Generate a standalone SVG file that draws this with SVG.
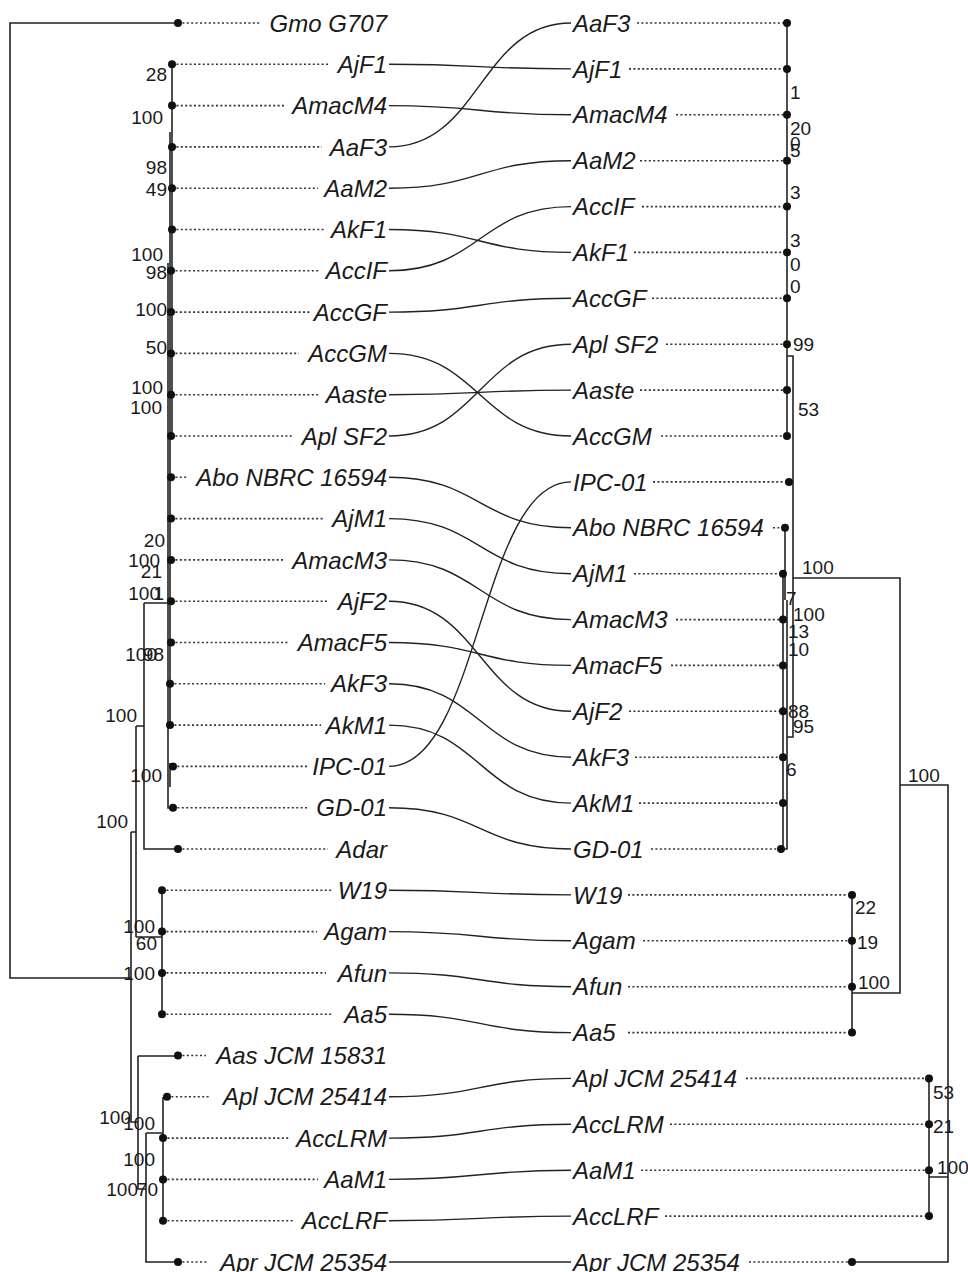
<svg xmlns="http://www.w3.org/2000/svg" width="968" height="1272" viewBox="0 0 968 1272">
<style>
.lbl{font-family:"Liberation Sans",Arial,sans-serif;font-style:italic;font-size:24px;fill:#1a1a1a}
.le{text-anchor:end}
.bs{font-family:"Liberation Sans",Arial,sans-serif;font-size:19px;fill:#1a1a1a}
.bse{text-anchor:end}
.br{stroke:#222;stroke-width:1.6;fill:none}
.dl{stroke:#333;stroke-width:1.6;stroke-dasharray:2 2.4;fill:none}
.con{stroke:#222;stroke-width:1.4;fill:none}
.dot{fill:#111}
</style>
<rect width="968" height="1272" fill="#fff"/>

<!-- left tree branches -->
<g id="left-tree">
<path class="br" d="M178,23 H10 V978 H131"/>
<path class="br" d="M131,832 V1122 H138"/>
<path class="br" d="M131,832 H136 M136,726 V937"/>
<path class="br" d="M136,726 H144 M144,603 V849 H178 M144,603 H168"/>
<path class="br" d="M172,64 V436"/>
<path class="br" d="M170,132 V725"/>
<path class="br" d="M168,263 V808 H173"/>
<path class="br" d="M170,763 V787"/>
<path class="br" d="M136,937 H162 M162,890 V1014"/>
<path class="br" d="M138,1056 V1189 H146 M138,1056 H178"/>
<path class="br" d="M146,1133 V1262 H178 M146,1133 H163 M163,1097 V1221 M163,1097 H167"/>
</g>

<!-- right tree branches -->
<g id="right-tree">
<path class="br" d="M787,23 V436"/>
<path class="br" d="M787,356 H793 V737 H787"/>
<path class="br" d="M789,482 H793"/>
<path class="br" d="M785,528 V600 M783,573 V849 M787,600 V849 H781"/>
<path class="br" d="M793,578 H900 V993 H852 M852,895 V1033"/>
<path class="br" d="M900,785 H948 V1262 H852"/>
<path class="br" d="M948,1177 H929 M929,1078 V1216"/>
</g>

<!-- left leaves -->
<g id="L0"><line class="dl" x1="178" y1="23" x2="261" y2="23"/><circle class="dot" cx="178" cy="23" r="4"/><text class="lbl le" x="387" y="31.6">Gmo G707</text></g>
<g id="L1"><line class="dl" x1="172" y1="64.3" x2="329" y2="64.3"/><circle class="dot" cx="172" cy="64.3" r="4"/><text class="lbl le" x="387" y="72.9">AjF1</text></g>
<g id="L2"><line class="dl" x1="172" y1="105.6" x2="284" y2="105.6"/><circle class="dot" cx="172" cy="105.6" r="4"/><text class="lbl le" x="387" y="114.2">AmacM4</text></g>
<g id="L3"><line class="dl" x1="172" y1="146.9" x2="322" y2="146.9"/><circle class="dot" cx="172" cy="146.9" r="4"/><text class="lbl le" x="387" y="155.5">AaF3</text></g>
<g id="L4"><line class="dl" x1="172" y1="188.2" x2="318" y2="188.2"/><circle class="dot" cx="172" cy="188.2" r="4"/><text class="lbl le" x="387" y="196.8">AaM2</text></g>
<g id="L5"><line class="dl" x1="172" y1="229.5" x2="326" y2="229.5"/><circle class="dot" cx="172" cy="229.5" r="4"/><text class="lbl le" x="387" y="238.1">AkF1</text></g>
<g id="L6"><line class="dl" x1="171" y1="270.8" x2="320" y2="270.8"/><circle class="dot" cx="171" cy="270.8" r="4"/><text class="lbl le" x="387" y="279.4">AccIF</text></g>
<g id="L7"><line class="dl" x1="171" y1="312.1" x2="310" y2="312.1"/><circle class="dot" cx="171" cy="312.1" r="4"/><text class="lbl le" x="387" y="320.7">AccGF</text></g>
<g id="L8"><line class="dl" x1="171" y1="353.4" x2="299" y2="353.4"/><circle class="dot" cx="171" cy="353.4" r="4"/><text class="lbl le" x="387" y="362">AccGM</text></g>
<g id="L9"><line class="dl" x1="171" y1="394.7" x2="319" y2="394.7"/><circle class="dot" cx="171" cy="394.7" r="4"/><text class="lbl le" x="387" y="403.3">Aaste</text></g>
<g id="L10"><line class="dl" x1="171" y1="436" x2="293" y2="436"/><circle class="dot" cx="171" cy="436" r="4"/><text class="lbl le" x="387" y="444.6">Apl SF2</text></g>
<g id="L11"><line class="dl" x1="171" y1="477.3" x2="187" y2="477.3"/><circle class="dot" cx="171" cy="477.3" r="4"/><text class="lbl le" x="387" y="485.9">Abo NBRC 16594</text></g>
<g id="L12"><line class="dl" x1="171" y1="518.6" x2="325" y2="518.6"/><circle class="dot" cx="171" cy="518.6" r="4"/><text class="lbl le" x="387" y="527.2">AjM1</text></g>
<g id="L13"><line class="dl" x1="171" y1="559.9" x2="284" y2="559.9"/><circle class="dot" cx="171" cy="559.9" r="4"/><text class="lbl le" x="387" y="568.5">AmacM3</text></g>
<g id="L14"><line class="dl" x1="171" y1="601.2" x2="329" y2="601.2"/><circle class="dot" cx="171" cy="601.2" r="4"/><text class="lbl le" x="387" y="609.8">AjF2</text></g>
<g id="L15"><line class="dl" x1="171" y1="642.5" x2="289" y2="642.5"/><circle class="dot" cx="171" cy="642.5" r="4"/><text class="lbl le" x="387" y="651.1">AmacF5</text></g>
<g id="L16"><line class="dl" x1="170" y1="683.8" x2="325" y2="683.8"/><circle class="dot" cx="170" cy="683.8" r="4"/><text class="lbl le" x="387" y="692.4">AkF3</text></g>
<g id="L17"><line class="dl" x1="170" y1="725.1" x2="321" y2="725.1"/><circle class="dot" cx="170" cy="725.1" r="4"/><text class="lbl le" x="387" y="733.7">AkM1</text></g>
<g id="L18"><line class="dl" x1="173" y1="766.4" x2="307" y2="766.4"/><circle class="dot" cx="173" cy="766.4" r="4"/><text class="lbl le" x="387" y="775">IPC-01</text></g>
<g id="L19"><line class="dl" x1="173" y1="807.7" x2="309" y2="807.7"/><circle class="dot" cx="173" cy="807.7" r="4"/><text class="lbl le" x="387" y="816.3">GD-01</text></g>
<g id="L20"><line class="dl" x1="178" y1="849" x2="328" y2="849"/><circle class="dot" cx="178" cy="849" r="4"/><text class="lbl le" x="387" y="857.6">Adar</text></g>
<g id="L21"><line class="dl" x1="162" y1="890.3" x2="332" y2="890.3"/><circle class="dot" cx="162" cy="890.3" r="4"/><text class="lbl le" x="387" y="898.9">W19</text></g>
<g id="L22"><line class="dl" x1="162" y1="931.6" x2="317" y2="931.6"/><circle class="dot" cx="162" cy="931.6" r="4"/><text class="lbl le" x="387" y="940.2">Agam</text></g>
<g id="L23"><line class="dl" x1="162" y1="972.9" x2="326" y2="972.9"/><circle class="dot" cx="162" cy="972.9" r="4"/><text class="lbl le" x="387" y="981.5">Afun</text></g>
<g id="L24"><line class="dl" x1="162" y1="1014.2" x2="332" y2="1014.2"/><circle class="dot" cx="162" cy="1014.2" r="4"/><text class="lbl le" x="387" y="1022.8">Aa5</text></g>
<g id="L25"><line class="dl" x1="178" y1="1055.5" x2="206" y2="1055.5"/><circle class="dot" cx="178" cy="1055.5" r="4"/><text class="lbl le" x="387" y="1064.1">Aas JCM 15831</text></g>
<g id="L26"><line class="dl" x1="167" y1="1096.8" x2="211" y2="1096.8"/><circle class="dot" cx="167" cy="1096.8" r="4"/><text class="lbl le" x="387" y="1105.4">Apl JCM 25414</text></g>
<g id="L27"><line class="dl" x1="163" y1="1138.1" x2="290" y2="1138.1"/><circle class="dot" cx="163" cy="1138.1" r="4"/><text class="lbl le" x="387" y="1146.7">AccLRM</text></g>
<g id="L28"><line class="dl" x1="163" y1="1179.4" x2="318" y2="1179.4"/><circle class="dot" cx="163" cy="1179.4" r="4"/><text class="lbl le" x="387" y="1188">AaM1</text></g>
<g id="L29"><line class="dl" x1="163" y1="1220.7" x2="294" y2="1220.7"/><circle class="dot" cx="163" cy="1220.7" r="4"/><text class="lbl le" x="387" y="1229.3">AccLRF</text></g>
<g id="L30"><line class="dl" x1="178" y1="1262" x2="208" y2="1262"/><circle class="dot" cx="178" cy="1262" r="4"/><text class="lbl le" x="387" y="1270.6">Apr JCM 25354</text></g>

<!-- right leaves -->
<g id="R0"><line class="dl" x1="637" y1="23" x2="787" y2="23"/><circle class="dot" cx="787" cy="23" r="4"/><text class="lbl" x="573" y="31.6">AaF3</text></g>
<g id="R1"><line class="dl" x1="629" y1="68.9" x2="787" y2="68.9"/><circle class="dot" cx="787" cy="68.9" r="4"/><text class="lbl" x="573" y="77.5">AjF1</text></g>
<g id="R2"><line class="dl" x1="676" y1="114.8" x2="787" y2="114.8"/><circle class="dot" cx="787" cy="114.8" r="4"/><text class="lbl" x="573" y="123.4">AmacM4</text></g>
<g id="R3"><line class="dl" x1="640" y1="160.7" x2="787" y2="160.7"/><circle class="dot" cx="787" cy="160.7" r="4"/><text class="lbl" x="573" y="169.3">AaM2</text></g>
<g id="R4"><line class="dl" x1="642" y1="206.6" x2="787" y2="206.6"/><circle class="dot" cx="787" cy="206.6" r="4"/><text class="lbl" x="573" y="215.2">AccIF</text></g>
<g id="R5"><line class="dl" x1="634" y1="252.4" x2="787" y2="252.4"/><circle class="dot" cx="787" cy="252.4" r="4"/><text class="lbl" x="573" y="261">AkF1</text></g>
<g id="R6"><line class="dl" x1="652" y1="298.3" x2="787" y2="298.3"/><circle class="dot" cx="787" cy="298.3" r="4"/><text class="lbl" x="573" y="306.9">AccGF</text></g>
<g id="R7"><line class="dl" x1="666" y1="344.2" x2="787" y2="344.2"/><circle class="dot" cx="787" cy="344.2" r="4"/><text class="lbl" x="573" y="352.8">Apl SF2</text></g>
<g id="R8"><line class="dl" x1="640" y1="390.1" x2="787" y2="390.1"/><circle class="dot" cx="787" cy="390.1" r="4"/><text class="lbl" x="573" y="398.7">Aaste</text></g>
<g id="R9"><line class="dl" x1="661" y1="436" x2="787" y2="436"/><circle class="dot" cx="787" cy="436" r="4"/><text class="lbl" x="573" y="444.6">AccGM</text></g>
<g id="R10"><line class="dl" x1="653" y1="481.9" x2="789" y2="481.9"/><circle class="dot" cx="789" cy="481.9" r="4"/><text class="lbl" x="573" y="490.5">IPC-01</text></g>
<g id="R11"><line class="dl" x1="773" y1="527.8" x2="785" y2="527.8"/><circle class="dot" cx="785" cy="527.8" r="4"/><text class="lbl" x="573" y="536.4">Abo NBRC 16594</text></g>
<g id="R12"><line class="dl" x1="634" y1="573.7" x2="783" y2="573.7"/><circle class="dot" cx="783" cy="573.7" r="4"/><text class="lbl" x="573" y="582.3">AjM1</text></g>
<g id="R13"><line class="dl" x1="676" y1="619.6" x2="783" y2="619.6"/><circle class="dot" cx="783" cy="619.6" r="4"/><text class="lbl" x="573" y="628.2">AmacM3</text></g>
<g id="R14"><line class="dl" x1="671" y1="665.4" x2="783" y2="665.4"/><circle class="dot" cx="783" cy="665.4" r="4"/><text class="lbl" x="573" y="674">AmacF5</text></g>
<g id="R15"><line class="dl" x1="629" y1="711.3" x2="783" y2="711.3"/><circle class="dot" cx="783" cy="711.3" r="4"/><text class="lbl" x="573" y="719.9">AjF2</text></g>
<g id="R16"><line class="dl" x1="635" y1="757.2" x2="783" y2="757.2"/><circle class="dot" cx="783" cy="757.2" r="4"/><text class="lbl" x="573" y="765.8">AkF3</text></g>
<g id="R17"><line class="dl" x1="639" y1="803.1" x2="783" y2="803.1"/><circle class="dot" cx="783" cy="803.1" r="4"/><text class="lbl" x="573" y="811.7">AkM1</text></g>
<g id="R18"><line class="dl" x1="651" y1="849" x2="781" y2="849"/><circle class="dot" cx="781" cy="849" r="4"/><text class="lbl" x="573" y="857.6">GD-01</text></g>
<g id="R19"><line class="dl" x1="628" y1="894.9" x2="852" y2="894.9"/><circle class="dot" cx="852" cy="894.9" r="4"/><text class="lbl" x="573" y="903.5">W19</text></g>
<g id="R20"><line class="dl" x1="643" y1="940.8" x2="852" y2="940.8"/><circle class="dot" cx="852" cy="940.8" r="4"/><text class="lbl" x="573" y="949.4">Agam</text></g>
<g id="R21"><line class="dl" x1="628" y1="986.7" x2="852" y2="986.7"/><circle class="dot" cx="852" cy="986.7" r="4"/><text class="lbl" x="573" y="995.3">Afun</text></g>
<g id="R22"><line class="dl" x1="628" y1="1032.6" x2="852" y2="1032.6"/><circle class="dot" cx="852" cy="1032.6" r="4"/><text class="lbl" x="573" y="1041.2">Aa5</text></g>
<g id="R23"><line class="dl" x1="746" y1="1078.4" x2="929" y2="1078.4"/><circle class="dot" cx="929" cy="1078.4" r="4"/><text class="lbl" x="573" y="1087">Apl JCM 25414</text></g>
<g id="R24"><line class="dl" x1="670" y1="1124.3" x2="929" y2="1124.3"/><circle class="dot" cx="929" cy="1124.3" r="4"/><text class="lbl" x="573" y="1132.9">AccLRM</text></g>
<g id="R25"><line class="dl" x1="641" y1="1170.2" x2="929" y2="1170.2"/><circle class="dot" cx="929" cy="1170.2" r="4"/><text class="lbl" x="573" y="1178.8">AaM1</text></g>
<g id="R26"><line class="dl" x1="665" y1="1216.1" x2="929" y2="1216.1"/><circle class="dot" cx="929" cy="1216.1" r="4"/><text class="lbl" x="573" y="1224.7">AccLRF</text></g>
<g id="R27"><line class="dl" x1="749" y1="1262" x2="852" y2="1262"/><circle class="dot" cx="852" cy="1262" r="4"/><text class="lbl" x="573" y="1270.6">Apr JCM 25354</text></g>

<!-- support values -->
<g id="left-support" class="bs bse">
<text x="167" y="81">28</text>
<text x="163" y="124">100</text>
<text x="167" y="174">98</text>
<text x="167" y="196">49</text>
<text x="163" y="261">100</text>
<text x="167" y="279">98</text>
<text x="167" y="316">100</text>
<text x="167" y="354">50</text>
<text x="163" y="394">100</text>
<text x="162" y="414">100</text>
<text x="165" y="547">20</text>
<text x="160" y="567">100</text>
<text x="162" y="578">21</text>
<text x="160" y="600">100</text>
<text x="164" y="600">1</text>
<text x="157" y="661">100</text>
<text x="164" y="661">98</text>
<text x="137" y="722">100</text>
<text x="162" y="782">100</text>
<text x="128" y="828">100</text>
<text x="155" y="933">100</text>
<text x="157" y="950">60</text>
<text x="155" y="980">100</text>
<text x="131" y="1124">100</text>
<text x="155" y="1130">100</text>
<text x="155" y="1166">100</text>
<text x="138" y="1196">100</text>
<text x="158" y="1196">70</text>
</g>
<g id="right-support" class="bs">
<text x="790" y="99">1</text>
<text x="790" y="135">20</text>
<text x="790" y="150">0</text>
<text x="790" y="157">5</text>
<text x="790" y="199">3</text>
<text x="790" y="247">3</text>
<text x="790" y="271">0</text>
<text x="790" y="293">0</text>
<text x="793" y="351">99</text>
<text x="798" y="416">53</text>
<text x="802" y="574">100</text>
<text x="786" y="605">7</text>
<text x="793" y="621">100</text>
<text x="788" y="638">13</text>
<text x="788" y="656">10</text>
<text x="788" y="718">88</text>
<text x="793" y="733">95</text>
<text x="786" y="776">6</text>
<text x="908" y="782">100</text>
<text x="855" y="914">22</text>
<text x="857" y="949">19</text>
<text x="858" y="989">100</text>
<text x="933" y="1099">53</text>
<text x="933" y="1133">21</text>
<text x="937" y="1174">100</text>
</g>

<!-- connectors -->
<g id="connectors" class="con">
<path d="M389,64.3 C480,64.3 480,68.9 571,68.9"/>
<path d="M389,105.6 C480,105.6 480,114.8 571,114.8"/>
<path d="M389,146.9 C480,146.9 480,23 571,23"/>
<path d="M389,188.2 C480,188.2 480,160.7 571,160.7"/>
<path d="M389,229.5 C480,229.5 480,252.4 571,252.4"/>
<path d="M389,270.8 C480,270.8 480,206.6 571,206.6"/>
<path d="M389,312.1 C480,312.1 480,298.3 571,298.3"/>
<path d="M389,353.4 C480,353.4 480,436 571,436"/>
<path d="M389,394.7 C480,394.7 480,390.1 571,390.1"/>
<path d="M389,436 C480,436 480,344.2 571,344.2"/>
<path d="M389,477.3 C480,477.3 480,527.8 571,527.8"/>
<path d="M389,518.6 C480,518.6 480,573.7 571,573.7"/>
<path d="M389,559.9 C480,559.9 480,619.6 571,619.6"/>
<path d="M389,601.2 C480,601.2 480,711.3 571,711.3"/>
<path d="M389,642.5 C480,642.5 480,665.4 571,665.4"/>
<path d="M389,683.8 C480,683.8 480,757.2 571,757.2"/>
<path d="M389,725.1 C480,725.1 480,803.1 571,803.1"/>
<path d="M389,766.4 C480,766.4 480,481.9 571,481.9"/>
<path d="M389,807.7 C480,807.7 480,849 571,849"/>
<path d="M389,890.3 C480,890.3 480,894.9 571,894.9"/>
<path d="M389,931.6 C480,931.6 480,940.8 571,940.8"/>
<path d="M389,972.9 C480,972.9 480,986.7 571,986.7"/>
<path d="M389,1014.2 C480,1014.2 480,1032.6 571,1032.6"/>
<path d="M389,1096.8 C480,1096.8 480,1078.4 571,1078.4"/>
<path d="M389,1138.1 C480,1138.1 480,1124.3 571,1124.3"/>
<path d="M389,1179.4 C480,1179.4 480,1170.2 571,1170.2"/>
<path d="M389,1220.7 C480,1220.7 480,1216.1 571,1216.1"/>
<path d="M389,1262 C480,1262 480,1262 571,1262"/>
</g>
</svg>
